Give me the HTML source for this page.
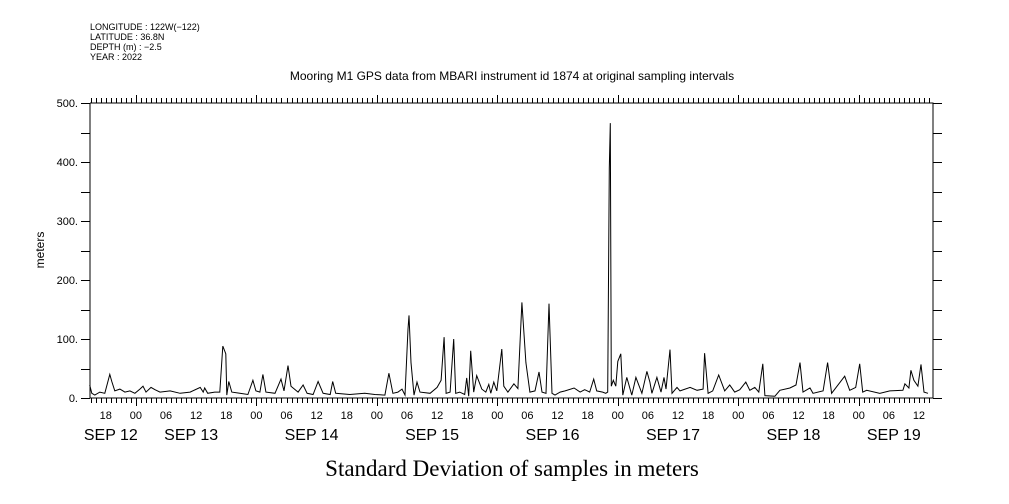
<!DOCTYPE html>
<html><head><meta charset="utf-8"><style>
html,body{margin:0;padding:0;background:#fff;}
svg{display:block;font-family:"Liberation Sans",sans-serif;}
</style></head><body>
<svg id="chart" width="1009" height="504" viewBox="0 0 1009 504" xmlns="http://www.w3.org/2000/svg">
<g font-size="9" fill="#000">
<text x="90" y="30">LONGITUDE : 122W(−122)</text>
<text x="90" y="40">LATITUDE : 36.8N</text>
<text x="90" y="50">DEPTH (m) : −2.5</text>
<text x="90" y="60">YEAR : 2022</text>
</g>
<text x="512" y="80" font-size="12" text-anchor="middle">Mooring M1 GPS data from MBARI instrument id 1874 at original sampling intervals</text>
<text x="512" y="476" font-size="23" text-anchor="middle" font-family="Liberation Serif, serif">Standard Deviation of samples in meters</text>
<text transform="translate(44,250) rotate(-90)" font-size="12" text-anchor="middle">meters</text>
<g id="axes" stroke="#000" stroke-width="1" fill="none"></g>
<g id="labels" fill="#000"></g>
<path id="line" fill="none" stroke="#000" stroke-width="1"/>
</svg>
<script>
const times=[
14.8,15.2,15.8,16.8,17.8,18.8,19.2,19.8,20.8,21.8,
22.8,23.8,24.8,25.4,26,27,27.8,28.8,30.8,32.8,
34.8,36.8,37.4,37.7,38.3,39.7,40.7,41.3,41.9,42.1,
42.5,43.1,44.7,46.3,47.3,47.9,48.7,49.3,49.9,51.7,
52.9,53.5,54.3,54.9,56.3,57.3,58.1,59.3,60.3,61.3,
62.7,63.2,63.8,66.6,69.6,71.6,73.6,74.4,75.2,76.2,
77,77.6,78.2,78.4,78.8,79.4,80,80.6,82.6,84,
84.8,85.4,85.8,86.6,87.3,87.7,88.5,89.5,89.9,90.3,
90.7,91.3,91.9,92.9,93.7,94.3,94.7,95.3,95.9,96.9,
97.3,98.1,99.3,100.1,100.9,101.7,102.5,103.5,104.3,104.9,
105.7,106.3,106.9,107.5,108.5,109.5,111.3,112.5,113.4,114.4,
115.2,115.8,117,117.6,118,118.3,118.5,118.7,119.1,119.6,
120,120.6,121,121.8,122.8,123.6,124.8,125.8,126.4,126.8,
127.8,128.6,129.2,129.6,130.4,130.8,131.8,132.4,134.4,135.8,
137,137.3,138,138.9,140.1,141.3,142.3,143.3,144.3,145.5,
146.3,147.3,148.1,148.9,149.3,151.3,152.3,154.3,155.5,156.3,
156.9,158.3,158.9,160.9,161.8,162.6,165.2,166.2,167.4,168.2,
168.8,169.6,172.2,174.2,176.8,177.2,178,178.4,179,179.8,
180.4,181,181.8];
const values=[
22,8,5,10,8,40,28,12,15,10,
12,8,15,20,10,18,14,10,12,8,
10,18,10,17,8,10,10,88,75,5,
28,10,8,6,30,12,10,40,10,8,
32,12,55,20,10,22,8,6,28,8,
6,28,8,6,8,6,5,42,8,10,
15,5,117,140,60,5,27,10,8,18,
30,103,8,10,100,8,10,6,34,3,
80,10,38,15,10,23,8,27,12,83,
20,10,24,16,162,60,10,12,44,10,
8,160,8,5,10,12,17,10,14,10,
32,12,10,8,10,390,466,20,30,20,
62,75,5,35,5,35,8,45,27,8,
35,10,35,15,82,8,18,12,18,13,
15,76,8,12,39,12,22,10,14,27,
13,18,10,58,4,3,13,17,22,60,
10,17,8,12,60,8,37,13,18,58,
10,13,8,12,13,24,17,47,30,20,
57,10,8];
const yTicks=[0,100,200,300,400,500];
const yTickLabels=["0.","100.","200.","300.","400.","500."];
const hourLabels=["18","00","06","12","18","00","06","12","18","00","06","12","18","00","06","12","18","00","06","12","18","00","06","12","18","00","06","12"];
const hourLabelTimes=[18,24,30,36,42,48,54,60,66,72,78,84,90,96,102,108,114,120,126,132,138,144,150,156,162,168,174,180];
const dayLabels=["SEP 12","SEP 13","SEP 14","SEP 15","SEP 16","SEP 17","SEP 18","SEP 19"];
const dayLabelTimes=[19,35,59,83,107,131,155,175];

const X0=90,X1=933,Y0=398,Y1=103,T0=14.85,T1=182.8,V0=0,V1=500;
const xs=t=>X0+(t-T0)/(T1-T0)*(X1-X0);
const ys=v=>Y0-(v-V0)/(V1-V0)*(Y0-Y1);
const NS="http://www.w3.org/2000/svg";
const axes=document.getElementById('axes'),labels=document.getElementById('labels');
let d=`M${X0} ${Y1}V${Y0}H${X1}V${Y1}H${X0}`;
for(let h=Math.ceil(T0);h<=T1;h++){
  const x=Math.round(xs(h))+0.5;const big=h%24===0;
  d+=`M${x} ${Y0}v${big?8:5}M${x} ${Y1}v${big?-8:-5}`;
}
for(let v=0;v<=500;v+=50){const y=Math.round(ys(v))+0.5;d+=`M${X0} ${y}h-9M${X1} ${y}h9`;}
const ap=document.createElementNS(NS,'path');


ap.setAttribute('d',d);axes.appendChild(ap);
yTicks.forEach((v,i)=>{const t=document.createElementNS(NS,'text');


t.setAttribute('x',78);t.setAttribute('y',ys(v)+4);t.setAttribute('text-anchor','end');t.setAttribute('font-size','11');t.textContent=yTickLabels[i];labels.appendChild(t);});
hourLabelTimes.forEach((h,i)=>{const t=document.createElementNS(NS,'text');


t.setAttribute('x',xs(h));t.setAttribute('y',419);t.setAttribute('text-anchor','middle');t.setAttribute('font-size','11');t.textContent=hourLabels[i];labels.appendChild(t);});
dayLabelTimes.forEach((h,i)=>{const t=document.createElementNS(NS,'text');


t.setAttribute('x',xs(h));t.setAttribute('y',440);t.setAttribute('text-anchor','middle');t.setAttribute('font-size','16');t.textContent=dayLabels[i];labels.appendChild(t);});
document.getElementById('line').setAttribute('d',times.map((t,i)=>(i?'L':'M')+xs(t).toFixed(1)+' '+ys(values[i]).toFixed(1)).join(''));
</script>
</body></html>
